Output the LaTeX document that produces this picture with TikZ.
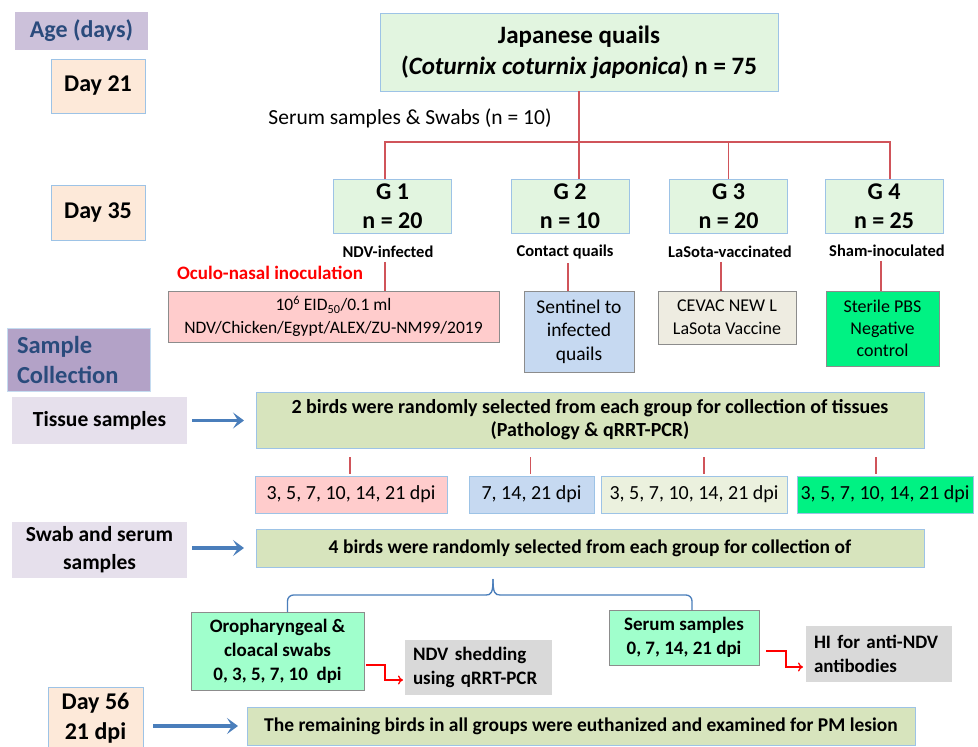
\documentclass[tikz,border=0pt]{standalone}
\usepackage{fontspec}
\setmainfont{Carlito}
\usetikzlibrary{arrows.meta}
\definecolor{agepurple}{HTML}{CCC1DA}
\definecolor{scpurple}{HTML}{B3A2C7}
\definecolor{lav}{HTML}{E6E0EC}
\definecolor{dblue}{HTML}{2A4B7C}
\definecolor{peach}{HTML}{FDE9D9}
\definecolor{bblue}{HTML}{9DC3E6}
\definecolor{lgreen}{HTML}{E2F5E0}
\definecolor{redline}{HTML}{D0545A}
\definecolor{pinkf}{HTML}{FFCCCC}
\definecolor{lbluef}{HTML}{C6D9F1}
\definecolor{beige}{HTML}{EEECE1}
\definecolor{bgreen}{HTML}{00F283}
\definecolor{olive}{HTML}{D7E4BD}
\definecolor{paleg}{HTML}{EBF1DE}
\definecolor{mint}{HTML}{A0FFCC}
\definecolor{grayf}{HTML}{D9D9D9}
\definecolor{arrblue}{HTML}{4A7EBB}
\definecolor{bordg}{HTML}{8C8C8C}
\newcommand{\fz}[2]{\fontsize{#1pt}{#2pt}\selectfont}
\begin{document}
\begin{tikzpicture}[x=1pt,y=-1pt,
  every node/.style={inner sep=0pt,outer sep=0pt,align=center},
  bxs/.style={draw=bblue,line width=0.9pt},
  dayb/.style={bxs,fill=peach,font=\fz{24}{30}\bfseries},
  grpb/.style={bxs,fill=lgreen,font=\fz{24}{29}\bfseries,minimum width=118pt,minimum height=54pt},
  lab/.style={font=\fz{16.5}{18}\bfseries},
  descb/.style={draw=bordg,line width=0.9pt,font=\fz{18}{23}},
  redl/.style={draw=redline,line width=1.4pt},
  side/.style={fill=lav,font=\fz{21.5}{28}\bfseries,minimum width=175pt},
  oliveb/.style={bxs,fill=olive,minimum width=668pt},
  dpib/.style={bxs,font=\fz{20}{23},minimum height=37pt},
  mintb/.style={draw=bordg,line width=0.9pt,fill=mint,font=\fz{19}{24}\bfseries},
  grayb/.style={fill=grayf,font=\fz{19}{24}\bfseries,align=left,inner xsep=8pt},
  barr/.style={draw=arrblue,line width=3.5pt,-{Stealth[length=11pt,width=16pt,inset=5pt]}},
  rarr/.style={draw=red,line width=1.3pt,-{To[length=5pt,width=9pt]}},
  brc/.style={draw=arrblue,line width=1.3pt}]
\useasboundingbox (0,0) rectangle (978,747);
\fill[white] (0,0) rectangle (978,747);

% left column
\node[fill=agepurple,text=dblue,font=\fz{24}{30}\bfseries,minimum width=133pt,minimum height=38pt] (age) at (81.5,31) {Age (days)};
\node[dayb,minimum width=94pt,minimum height=54pt] (d21) at (98,86) {Day 21};
\node[dayb,minimum width=94pt,minimum height=55pt] (d35) at (98,212.5) {Day 35};
\node[fill=scpurple,draw=bblue!60,text=dblue,font=\fz{24.5}{30}\bfseries,align=left,text width=123pt,inner xsep=10pt,minimum height=63pt] (sc) at (78.5,359.5) {Sample\\Collection};
\node[side,minimum height=47pt] (tis) at (99.5,420.5) {Tissue samples};
\node[side,minimum height=56pt] (sws) at (99.5,550) {Swab and serum\\samples};
\node[dayb,minimum width=95pt,minimum height=62pt] (d56) at (95.5,718) {Day 56\\21 dpi};

% top
\node[bxs,fill=lgreen,font=\fz{25}{31}\bfseries,minimum width=398pt,minimum height=78pt] (top) at (579,52) {Japanese quails\\(\textit{Coturnix coturnix japonica}) n = 75};
\node[font=\fz{21.5}{26}] (srm) at (410,118) {Serum samples \& Swabs (n = 10)};
\coordinate (j) at (579,142);

% groups
\node[grpb] (g1) at (392.5,206) {G 1\\n = 20};
\node[grpb] (g2) at (570,206) {G 2\\n = 10};
\node[grpb] (g3) at (728.5,206) {G 3\\n = 20};
\node[grpb] (g4) at (884,206) {G 4\\n = 25};

\draw[redl] (top.south) -- (j);
\draw[redl] ([xshift=-7.5pt]g1.north) |- (j) -| ([xshift=6pt]g4.north);
\draw[redl] (j) -- (j |- g2.north);
\draw[redl] (j -| g3.north) -- (g3.north);

\node[lab] (l1) at (388,252) {NDV-infected};
\node[lab] (l2) at (565,252) {Contact quails};
\node[lab] (l3) at (730,252) {LaSota-vaccinated};
\node[lab] (l4) at (887,251) {Sham-inoculated};
\node[text=red,font=\fz{19}{22}\bfseries] (oc) at (270,273) {Oculo-nasal inoculation};

\node[descb,fill=pinkf,font=\fz{17.5}{23},minimum width=331pt,minimum height=51pt] (inoc) at (333.5,316.5) {10\textsuperscript{6} EID\textsubscript{50}/0.1 ml\\NDV/Chicken/Egypt/ALEX/ZU-NM99/2019};
\node[descb,fill=lbluef,font=\fz{19.5}{23.5},minimum width=110pt,minimum height=81pt] (de2) at (579,331.5) {Sentinel to\\infected\\quails};
\node[descb,fill=beige,minimum width=138pt,minimum height=53pt] (de3) at (727,317.5) {CEVAC NEW L\\LaSota Vaccine};
\node[descb,fill=bgreen,font=\fz{18}{22},minimum width=113pt,minimum height=75pt] (de4) at (882.5,328.5) {Sterile PBS\\Negative\\control};

\coordinate (c1) at ([xshift=-3pt]l1.south);
\coordinate (c2) at ([xshift=3pt]l2.south);
\coordinate (c3) at ([xshift=-9pt]l3.south);
\coordinate (c4) at ([xshift=-6pt]l4.south);
\draw[redl,shorten <=4pt] (c1) -- (c1 |- inoc.north);
\draw[redl,shorten <=4pt] (c2) -- (c2 |- de2.north);
\draw[redl,shorten <=4pt] (c3) -- (c3 |- de3.north);
\draw[redl,shorten <=4pt] (c4) -- (c4 |- de4.north);

% tissue row
\node[oliveb,font=\fz{20}{23}\bfseries,minimum height=56pt] (tbox) at (590,420) {2 birds were randomly selected from each group for collection of tissues\\(Pathology \& qRRT-PCR)};
\draw[barr,shorten <=5pt,shorten >=12pt] (tis.east) -- (tis.east -| tbox.west);

\node[dpib,fill=pinkf,minimum width=192pt] (p1) at (351,494.5) {3, 5, 7, 10, 14, 21 dpi};
\node[dpib,fill=lbluef,minimum width=125pt] (p2) at (531.5,494.5) {7, 14, 21 dpi};
\node[dpib,fill=paleg,minimum width=186pt] (p3) at (694,494.5) {3, 5, 7, 10, 14, 21 dpi};
\node[dpib,fill=bgreen,minimum width=176pt] (p4) at (885,494.5) {3, 5, 7, 10, 14, 21 dpi};
\coordinate (t1) at ([xshift=-1pt]p1.north);
\coordinate (t2) at ([xshift=-1pt]p2.north);
\coordinate (t3) at ([xshift=10pt]p3.north);
\coordinate (t4) at ([xshift=-9pt]p4.north);
\foreach \t in {t1,t2,t3,t4}{\draw[redl,shorten <=9pt,shorten >=2pt] (tbox.south -| \t) -- (\t);}

% swab row
\node[oliveb,font=\fz{19.5}{22}\bfseries,minimum height=38pt] (swbox) at (590,548) {4 birds were randomly selected from each group for collection of};
\draw[barr,shorten <=5pt,shorten >=12pt] (sws.east |- swbox.west) -- (swbox.west);

\node[mintb,minimum width=173pt,minimum height=78pt] (oro) at (277.5,651) {Oropharyngeal \&\\cloacal swabs\\0, 3, 5, 7, 10~~dpi};
\node[mintb,minimum width=150pt,minimum height=55pt] (ser) at (684,637.5) {Serum samples\\0, 7, 14, 21 dpi};
\node[grayb,text width=131pt,minimum height=55pt] (ndv) at (478.5,667.5) {NDV shedding\\using qRRT-PCR};
\node[grayb,text width=130pt,minimum height=56pt] (hi) at (879,654) {HI for anti-NDV\\antibodies};

% brace
\coordinate (btip) at (493,579);
\coordinate (bl) at ([xshift=10pt]oro.north);
\coordinate (br) at ([xshift=8pt]ser.north);
\draw[brc,rounded corners=6pt] (bl) -- (bl |- 0,595) -- (486,595);
\draw[brc,rounded corners=6pt] (br) -- (br |- 0,595) -- (500,595);
\draw[brc] (486,595) .. controls (491,595) and (493,593) .. (btip);
\draw[brc] (500,595) .. controls (495,595) and (493,593) .. (btip);

\draw[rarr] ([xshift=2pt,yshift=-14pt]oro.east) -- ++(19,0) |- ([xshift=-2pt,yshift=-12.5pt]ndv.west);
\draw[rarr] ([xshift=7pt,yshift=-13.5pt]ser.east) -- ++(20,0) |- ([xshift=-3pt,yshift=-13pt]hi.west);

% final
\node[oliveb,font=\fz{19.5}{22}\bfseries,minimum height=38pt] (fin) at (581,726) {The remaining birds in all groups were euthanized and examined for PM lesion};
\draw[barr,shorten <=10pt,shorten >=9pt] (d56.east |- fin.west) -- (fin.west);
\end{tikzpicture}
\end{document}
